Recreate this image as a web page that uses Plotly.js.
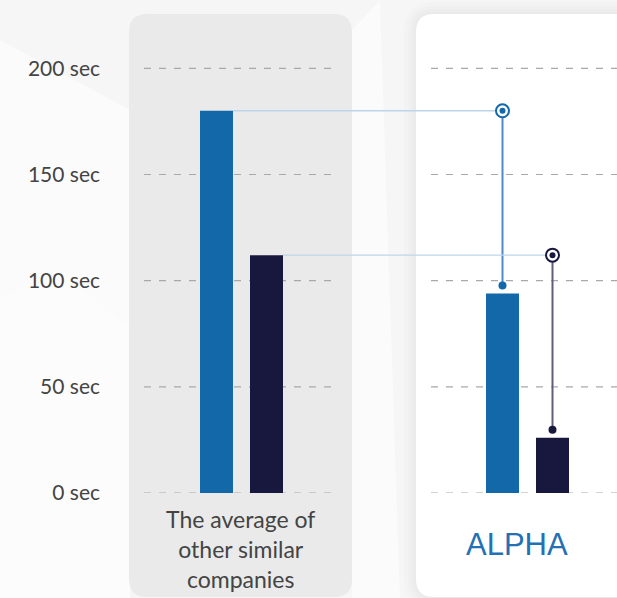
<!DOCTYPE html>
<html>
<head>
<meta charset="utf-8">
<script src="https://cdn.plot.ly/plotly-3.0.1.min.js"></script>
<style>
  html, body { margin: 0; padding: 0; background: #f7f7f7; }
  #chart { width: 617px; height: 598px; }
</style>
</head>
<body>
<div id="chart"></div>
<script>
// ---------- data ----------
const categories = ['The average of<br>other similar<br>companies', 'ALPHA'];
const blueValues = [180, 94];
const navyValues = [112, 26];
const tickValues = [0, 50, 100, 150, 200];
const tickLabels = ['0 sec', '50 sec', '100 sec', '150 sec', '200 sec'];

// ---------- layout constants ----------
const W = 617, H = 598;
const plotLeft = 144, plotRight = 617, plotTop = 20, plotBottom = 493;
const catCenterPx = 241.5, catStepPx = 286;
const yMax = (plotBottom - plotTop) / ((plotBottom - 68.3) / 200);
const pxPerY = (plotBottom - plotTop) / yMax;
const bargap = 1 - 100 / catStepPx;
const bargroupgap = 0.34;
const groupW = 1 - bargap;
const offBlue = -groupW / 4, offNavy = groupW / 4;
const barW = groupW / 2 * (1 - bargroupgap);
const dotGap = 8 / pxPerY;

const BLUE = '#1368aa', NAVY = '#18183f';
const X = x => x / W, Y = y => 1 - y / H;
const catIdx = categories.map((c, i) => i);

function rr(x0, y0, x1, y1, r) {
  return `M${X(x0 + r)},${Y(y0)} L${X(x1 - r)},${Y(y0)} Q${X(x1)},${Y(y0)} ${X(x1)},${Y(y0 + r)} ` +
    `L${X(x1)},${Y(y1 - r)} Q${X(x1)},${Y(y1)} ${X(x1 - r)},${Y(y1)} L${X(x0 + r)},${Y(y1)} ` +
    `Q${X(x0)},${Y(y1)} ${X(x0)},${Y(y1 - r)} L${X(x0)},${Y(y0 + r)} Q${X(x0)},${Y(y0)} ${X(x0 + r)},${Y(y0)} Z`;
}

// ---------- traces ----------
const traces = [
  { type: 'bar', x: catIdx, y: blueValues, marker: { color: BLUE }, hoverinfo: 'skip' },
  { type: 'bar', x: catIdx, y: navyValues, marker: { color: NAVY }, hoverinfo: 'skip' }
];

function connector(values, off, color, lineColor) {
  const xs = 1 + off;
  traces.push({ type: 'scatter', mode: 'lines', x: [0 + off + barW / 2, xs], y: [values[0], values[0]],
    line: { color: '#bcd5ec', width: 1.3 }, hoverinfo: 'skip' });
  traces.push({ type: 'scatter', mode: 'lines', x: [xs, xs], y: [values[0], values[1] + dotGap],
    line: { color: lineColor, width: 2 }, hoverinfo: 'skip' });
  traces.push({ type: 'scatter', mode: 'markers', x: [xs], y: [values[1] + dotGap],
    marker: { color: color, size: 8 }, hoverinfo: 'skip', cliponaxis: false });
  traces.push({ type: 'scatter', mode: 'markers', x: [xs], y: [values[0]],
    marker: { color: '#ffffff', size: 13, line: { color: color, width: 2 } }, hoverinfo: 'skip', cliponaxis: false });
  traces.push({ type: 'scatter', mode: 'markers', x: [xs], y: [values[0]],
    marker: { color: color, size: 6 }, hoverinfo: 'skip', cliponaxis: false });
}
connector(blueValues, offBlue, BLUE, '#4f8ac4');
connector(navyValues, offNavy, NAVY, '#5e5e7c');

// ---------- shapes ----------
const shapes = [];
// faint background facets
shapes.push({ type: 'path', layer: 'below', xref: 'paper', yref: 'paper',
  path: `M${X(0)},${Y(40)} L${X(130)},${Y(110)} L${X(130)},${Y(598)} L${X(0)},${Y(598)} Z`,
  fillcolor: '#ffffff', opacity: 0.55, line: { width: 0 } });
shapes.push({ type: 'path', layer: 'below', xref: 'paper', yref: 'paper',
  path: `M${X(0)},${Y(300)} L${X(60)},${Y(270)} L${X(130)},${Y(330)} L${X(130)},${Y(598)} L${X(0)},${Y(598)} Z`,
  fillcolor: '#ffffff', opacity: 0.35, line: { width: 0 } });
shapes.push({ type: 'path', layer: 'below', xref: 'paper', yref: 'paper',
  path: `M${X(352)},${Y(30)} L${X(380)},${Y(0)} L${X(400)},${Y(598)} L${X(352)},${Y(598)} Z`,
  fillcolor: '#ffffff', opacity: 0.5, line: { width: 0 } });
// panel 2 soft shadow
[12, 8, 5, 2].forEach(s => shapes.push({ type: 'path', layer: 'below', xref: 'paper', yref: 'paper',
  path: rr(416 - s, 14 - s, 680, 597 + s, 18 + s), fillcolor: '#000000', opacity: 0.012, line: { width: 0 } }));
// panels
shapes.push({ type: 'path', layer: 'below', xref: 'paper', yref: 'paper',
  path: rr(129, 14, 352, 597, 18), fillcolor: '#eaeaea', line: { width: 0 } });
shapes.push({ type: 'path', layer: 'below', xref: 'paper', yref: 'paper',
  path: rr(416, 14, 680, 597, 18), fillcolor: '#ffffff', line: { width: 0 } });
// dashed gridlines inside each panel
const gridSpans = [[144, 332], [431, 617]];
tickValues.forEach(v => gridSpans.forEach(([a, b]) => shapes.push({
  type: 'line', layer: 'below', xref: 'paper', yref: 'y', x0: X(a), x1: X(b), y0: v, y1: v,
  line: { color: '#a9a9a9', width: 1.2, dash: '7px,8px' } })));

// ---------- annotations (category labels) ----------
const annotations = [
  { xref: 'x', yref: 'paper', x: catIdx[0], xshift: -1.5, y: Y(503), yanchor: 'top', xanchor: 'center',
    text: categories[0], showarrow: false, align: 'center',
    font: { family: 'Lato, sans-serif', size: 23, color: '#444444' } },
  { xref: 'x', yref: 'paper', x: catIdx[1], xshift: -11, y: Y(544), yanchor: 'middle', xanchor: 'center',
    text: categories[1], showarrow: false,
    font: { family: 'Liberation Sans, Arial, sans-serif', size: 31, color: '#2370b4' } }
];

const layout = {
  width: W, height: H,
  margin: { l: 0, r: 0, t: 0, b: 0 },
  paper_bgcolor: '#f6f6f6', plot_bgcolor: 'rgba(0,0,0,0)',
  showlegend: false, hovermode: false,
  barmode: 'group', bargap: bargap, bargroupgap: bargroupgap,
  xaxis: {
    domain: [X(plotLeft), X(plotRight)],
    range: [(plotLeft - catCenterPx) / catStepPx, (plotRight - catCenterPx) / catStepPx],
    showgrid: false, zeroline: false, showticklabels: false, ticks: '', fixedrange: true
  },
  yaxis: {
    domain: [Y(plotBottom), Y(plotTop)],
    range: [0, yMax],
    tickvals: tickValues, ticktext: tickLabels,
    showgrid: false, zeroline: false, ticks: '', ticklabelstandoff: 43,
    tickfont: { family: 'Lato, sans-serif', size: 21, color: '#444444' },
    fixedrange: true
  },
  shapes: shapes,
  annotations: annotations,
  font: { family: 'Lato, sans-serif' }
};

Plotly.newPlot('chart', traces, layout, { staticPlot: true, displayModeBar: false });
</script>
</body>
</html>
